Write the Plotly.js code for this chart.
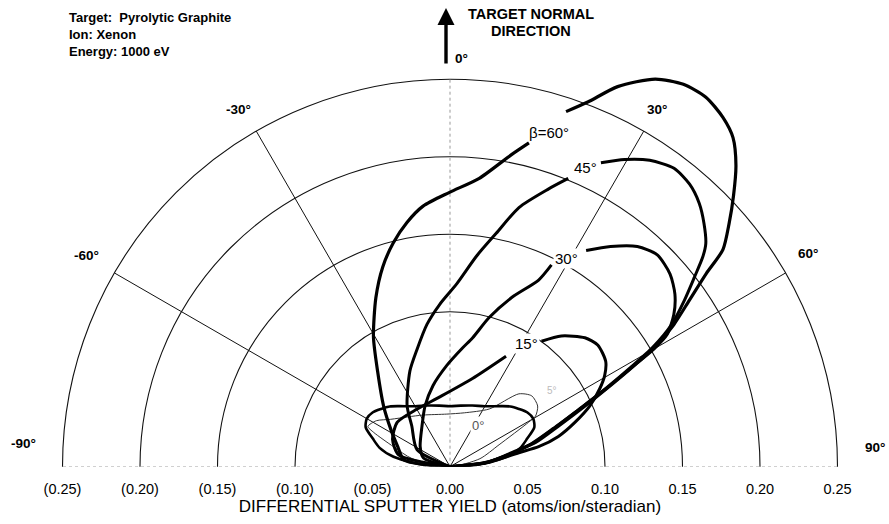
<!DOCTYPE html>
<html><head><meta charset="utf-8">
<script src="https://cdn.plot.ly/plotly-3.0.1.min.js"></script>
<style>
html,body{margin:0;padding:0;overflow:hidden;background:#fff;width:889px;height:524px}
#chart{width:970px;height:524px;margin-left:-40px}
</style>
</head><body><div id="chart"></div>
<script>
// ---------------- data ----------------
const ringValues   = [0.10, 0.15, 0.20, 0.25];
const spokeAngles  = [-60, -30, 30, 60];
const dottedAngles = [-90, 0, 90];
const xTickValues  = [-0.25, -0.20, -0.15, -0.10, -0.05, 0, 0.05, 0.10, 0.15, 0.20, 0.25];
const xTickLabels  = ['(0.25)', '(0.20)', '(0.15)', '(0.10)', '(0.05)', '0.00', '0.05', '0.10', '0.15', '0.20', '0.25'];
const angleLabels  = ['-90°', '-60°', '-30°', '0°', '30°', '60°', '90°'];

// incidence angle beta = 60 deg
const theta60 = [-90, -81.7, -69.2, -57.9, -47.6, -37.3, -30.6, -23.7, -18.6, -14.2, -10.0, -5.9, -0.1, 5.8, 11.1, 13.7, null,
                 18.1, 20.7, 23.8, 27.9, 31.4, 34.7, 38.0, 40.7, 43.5, 46.3, 48.9, 51.5, 53.0, 55.2, 57.6, 59.5, 61.2, 63.2, 65.8, 69.5, 74.2, 76.1, 83, 90];
const r60     = [0, 0.030, 0.036, 0.045, 0.058, 0.077, 0.097, 0.119, 0.136, 0.149, 0.160, 0.169, 0.177, 0.187, 0.205, 0.215, null,
                 0.241, 0.2515, 0.268, 0.283, 0.289, 0.290, 0.286, 0.280, 0.268, 0.253, 0.239, 0.225, 0.207, 0.188, 0.171, 0.155, 0.136, 0.116, 0.0955, 0.0746, 0.0574, 0.0457, 0.0255, 0];
// beta = 45 deg
const theta45 = [-90, -62.6, -43.2, -35.2, -22.7, -15.5, -9.2, -3.6, 2.1, 7.2, 11.2, 14.9, 19.5, 22.3, null,
                 26.4, 29.6, 33.1, 36.9, 40.3, 43.4, 46.2, 48.9, 50.3, 52.2, 54.6, 57.3, 59.5, 61.2, 63.2, 65.8, 69.5, 74.2, 78, 84, 90];
const r45     = [0, 0.024, 0.036, 0.048, 0.067, 0.079, 0.093, 0.105, 0.118, 0.137, 0.1535, 0.173, 0.190, 0.201, null,
                 0.219, 0.228, 0.236, 0.2407, 0.239, 0.234, 0.227, 0.219, 0.212, 0.1996, 0.1856, 0.170, 0.152, 0.133, 0.1135, 0.093, 0.0725, 0.0555, 0.040, 0.022, 0];
// beta = 30 deg
const theta30 = [-90, -72, -56, -34.8, -22.3, -11.9, -1.8, 6.0, 9.9, 14.7, 20.1, 25.4, 26.7, null,
                 32.2, 36.1, 40.4, 44.3, 48.8, 52.5, 55.8, 58.7, 60.0, 61.5, 63.5, 66, 69.7, 74.4, 78, 84, 90];
const r30     = [0, 0.018, 0.0232, 0.0317, 0.0424, 0.0534, 0.0654, 0.077, 0.0843, 0.0995, 0.1164, 0.1333, 0.1457, null,
                 0.1648, 0.1758, 0.1865, 0.1912, 0.1887, 0.1829, 0.1746, 0.1638, 0.152, 0.132, 0.112, 0.091, 0.071, 0.054, 0.040, 0.021, 0];
// beta = 15 deg
const theta15 = [-90, -77, -64.7, -49.8, -29.7, -8.3, 14.3, 26.9, null,
                 36.1, 40.4, 46.3, 50.5, 55.9, 59.5, 62.5, 66.5, 70.4, 74.4, 77.3, 78.5, 84, 90];
const r15     = [0, 0.034, 0.041, 0.0445, 0.0428, 0.0455, 0.0587, 0.0799, null,
                 0.1002, 0.1108, 0.1204, 0.1235, 0.1213, 0.1158, 0.1089, 0.0984, 0.0857, 0.0726, 0.0586, 0.0453, 0.024, 0];
// beta = 0 deg (normal incidence)
const theta0  = [-90, -85, -80, -75, -70, -65, -60, -55, -50, -45, -40, -30, -20, -10, 0, 10, 20, 30, 40, 45, 50, 55, 60, 65, 70, 75, 80, 85, 90];
const r0      = [0, 0.020, 0.037, 0.047, 0.053, 0.060, 0.062, 0.061, 0.058, 0.055, 0.051, 0.045, 0.042, 0.040, 0.039, 0.040, 0.042, 0.045, 0.051, 0.055, 0.058, 0.061, 0.062, 0.060, 0.053, 0.047, 0.037, 0.020, 0];
// faint curve labelled 5 deg
const theta5  = [-90, -78, -70.5, -65.8, -63.9, -58, -51.4, -40, -27.6, -3.5, 15, 34.2, 43.4, 49.1, 55.3, 59.4, 60.5, 65.9, 75, 90];
const r5      = [0, 0.025, 0.0387, 0.054, 0.059, 0.056, 0.049, 0.042, 0.0376, 0.034, 0.036, 0.045, 0.0647, 0.0698, 0.0688, 0.0641, 0.0583, 0.0347, 0.020, 0];

// ---------------- geometry ----------------
const W = 970, H = 524, OFF = 40;          // plot is wider than the window so the big lobe is not clipped
const CX = 450, CY = 466.7;                // origin in window pixels
const RMAX = 0.30, PXU = 1550;             // radial range, pixels per unit
const RPX = RMAX * PXU;
const xDom = [(CX + OFF - RPX) / W, (CX + OFF + RPX) / W];
const yDom = [(H - CY) / H, (H - CY + RPX) / H];
const FONT = 'Liberation Sans, Arial, Helvetica, sans-serif';

function ann(text, wx, wy, extra) {
  return Object.assign({
    text: text, x: (wx + OFF) / W, y: 1 - wy / H, xref: 'paper', yref: 'paper',
    showarrow: false, xanchor: 'center', yanchor: 'middle',
    font: {family: FONT, size: 12, color: '#000'}
  }, extra || {});
}

const traces = [];
// radial spokes (grid)
spokeAngles.forEach(a => traces.push({
  type: 'scatterpolar', mode: 'lines', r: [0, ringValues[ringValues.length - 1]], theta: [a, a],
  line: {color: '#111', width: 1}, hoverinfo: 'skip', showlegend: false
}));
dottedAngles.forEach(a => traces.push({
  type: 'scatterpolar', mode: 'lines', r: [0, ringValues[ringValues.length - 1]], theta: [a, a],
  line: {color: '#999', width: 1, dash: 'dot'}, hoverinfo: 'skip', showlegend: false
}));
// curves
const curveSet = [
  [theta5, r5, 1, '#333'],
  [theta0, r0, 2.6, '#000'],
  [theta15, r15, 3, '#000'],
  [theta30, r30, 3, '#000'],
  [theta45, r45, 3, '#000'],
  [theta60, r60, 3.2, '#000']
];
curveSet.forEach(c => traces.push({
  type: 'scatterpolar', mode: 'lines', theta: c[0], r: c[1], connectgaps: false,
  line: {color: c[3], width: c[2], shape: 'spline', smoothing: 0.7}, hoverinfo: 'skip', showlegend: false
}));
// invisible cartesian trace that carries the bottom yield axis
traces.push({type: 'scatter', mode: 'markers', x: xTickValues, y: xTickValues.map(() => 0.5),
  marker: {opacity: 0}, hoverinfo: 'skip', showlegend: false, xaxis: 'x', yaxis: 'y'});

const angleLabelPos = [[23, 443], [86, 255], [238, 110], [461, 58], [657, 110], [808, 253], [875, 447]];
const annotations = [];
angleLabels.forEach((t, i) => annotations.push(ann(t, angleLabelPos[i][0], angleLabelPos[i][1], {font: {family: FONT, size: 13.5, color: '#000', weight: 'bold'}})));
annotations.push(ann('Target:\u00a0 Pyrolytic Graphite<br>Ion: Xenon<br>Energy: 1000 eV', 67, 34,
  {xanchor: 'left', align: 'left', font: {family: FONT, size: 13, color: '#000', weight: 'bold'}}));
annotations.push(ann('TARGET NORMAL', 531, 14, {font: {family: FONT, size: 14.5, color: '#000', weight: 'bold'}}));
annotations.push(ann('DIRECTION', 531, 31, {font: {family: FONT, size: 14.5, color: '#000', weight: 'bold'}}));
annotations.push({x: (446 + OFF) / W, y: 1 - 8 / H, xref: 'paper', yref: 'paper', ax: 0, ay: 57,
  showarrow: true, arrowhead: 2, arrowsize: 1, arrowwidth: 3.4, arrowcolor: '#000', text: ''});
const curveLabelFont = {family: FONT, size: 15, color: '#000'};
annotations.push(ann('β=60°', 549, 133, {font: curveLabelFont}));
annotations.push(ann('45°', 585, 167, {font: curveLabelFont}));
annotations.push(ann('30°', 566, 258, {font: curveLabelFont, bgcolor: '#fff'}));
annotations.push(ann('15°', 526, 343, {font: curveLabelFont, bgcolor: '#fff'}));
annotations.push(ann('0°', 478, 425, {font: {family: FONT, size: 13, color: '#555'}, bgcolor: '#fff'}));
annotations.push(ann('5°', 552, 390, {font: {family: FONT, size: 10, color: '#bbb'}, bgcolor: '#fff'}));

const layout = {
  width: W, height: H, margin: {l: 0, r: 0, t: 0, b: 0},
  paper_bgcolor: '#fff', plot_bgcolor: 'rgba(0,0,0,0)', showlegend: false,
  font: {family: FONT, color: '#000'},
  polar: {
    domain: {x: xDom, y: yDom}, sector: [0, 180], bgcolor: 'rgba(0,0,0,0)',
    radialaxis: {range: [0, RMAX], tickvals: ringValues, showticklabels: false, ticks: '', showline: false,
                 gridcolor: '#111', gridwidth: 1.1},
    angularaxis: {rotation: 90, direction: 'clockwise', showgrid: false, showticklabels: false, ticks: '', showline: false}
  },
  xaxis: {domain: xDom, range: [-RMAX, RMAX], tickvals: xTickValues, ticktext: xTickLabels,
          showgrid: false, zeroline: false, showline: false, ticks: '', ticklabelstandoff: 12,
          tickfont: {family: FONT, size: 14.5, color: '#000'}, anchor: 'y', fixedrange: true,
          title: {text: 'DIFFERENTIAL SPUTTER YIELD (atoms/ion/steradian)', font: {family: FONT, size: 17, color: '#000'}, standoff: 1}},
  yaxis: {domain: [yDom[0], yDom[0] + 0.02], range: [0, 1], visible: false, fixedrange: true},
  annotations: annotations
};
Plotly.newPlot('chart', traces, layout, {staticPlot: true, displayModeBar: false});
</script>
</body></html>
